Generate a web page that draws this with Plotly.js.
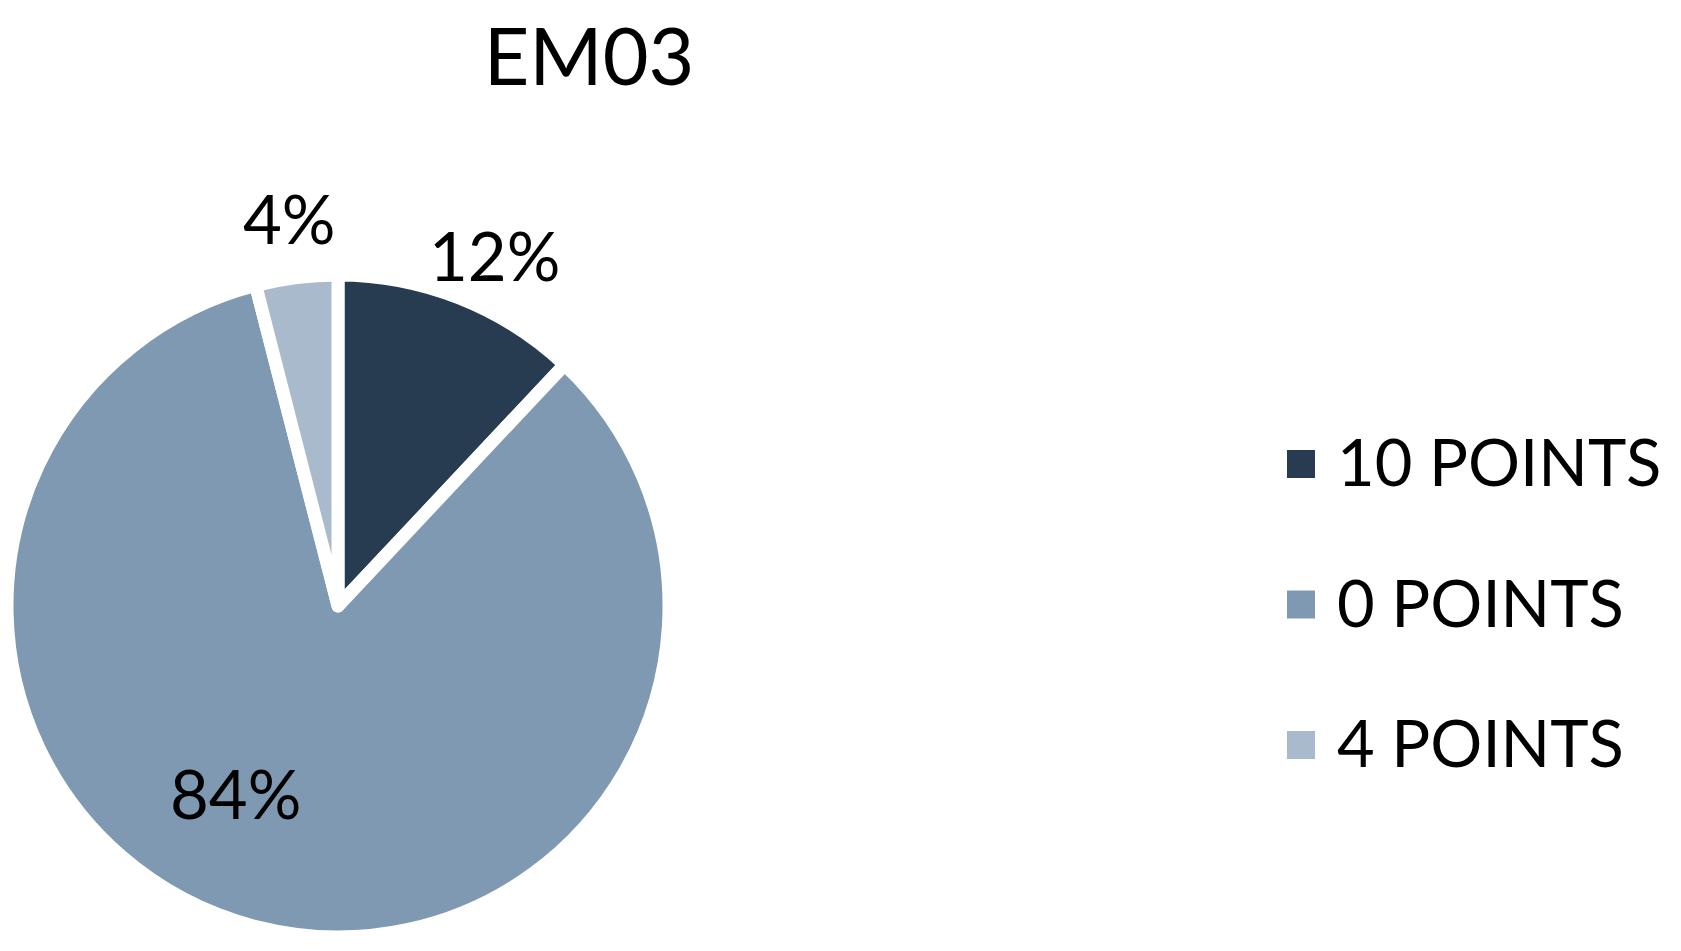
<!DOCTYPE html>
<html>
<head>
<meta charset="utf-8">
<script src="https://cdn.plot.ly/plotly-3.0.1.min.js"></script>
<style>
  html, body { margin: 0; padding: 0; background: #ffffff; }
  #chart { width: 1681px; height: 951px; }
</style>
</head>
<body>
<div id="chart"></div>
<script>
const chartTitle = 'EM03';
const categories = ['10 POINTS', '0 POINTS', '4 POINTS'];
const values = [12, 84, 4];
const colors = ['#283C51', '#7F99B2', '#A9BACC'];

const W = 1681, H = 951;
const FONT = 'Lato, "Open Sans", sans-serif';

// pie geometry (pixels)
const cx = 338, cy = 606, R = 331;

// label placement style: [angle shift in degrees from slice bisector, radius factor]
const labelPlacement = [[2.4, 1.16], [14.2, 0.645], [0, 1.18]];

const trace = {
  type: 'pie',
  labels: categories,
  values: values,
  sort: false,
  direction: 'clockwise',
  rotation: 0,
  marker: { colors: colors, line: { color: '#ffffff', width: 13 } },
  textinfo: 'none',
  showlegend: false,
  hoverinfo: 'none',
  domain: { x: [(cx - R) / W, (cx + R) / W], y: [1 - (cy + R) / H, 1 - (cy - R) / H] }
};

const shapes = [];
const annotations = [];

// percentage labels derived from the values
const total = values.reduce((a, b) => a + b, 0);
let cum = 0;
values.forEach((v, i) => {
  const mid = (cum + v / 2) / total * 360;
  cum += v;
  const ang = (mid + labelPlacement[i][0]) * Math.PI / 180;
  const r = R * labelPlacement[i][1];
  const px = cx + r * Math.sin(ang);
  const py = cy - r * Math.cos(ang);
  annotations.push({
    xref: 'paper', yref: 'paper',
    x: px / W, y: 1 - py / H,
    xanchor: 'center', yanchor: 'middle',
    text: Math.round(v / total * 100) + '%',
    showarrow: false,
    font: { family: FONT, size: 67, color: '#000000' }
  });
});

// custom legend built from the category arrays
const legX0 = 1287, legSize = 28, legTop = 450, legStep = 140.5, legTextX = 1335;
categories.forEach((c, i) => {
  const top = legTop + i * legStep;
  shapes.push({
    type: 'rect', xref: 'paper', yref: 'paper',
    x0: legX0 / W, x1: (legX0 + legSize) / W,
    y0: 1 - (top + legSize) / H, y1: 1 - top / H,
    fillcolor: colors[i], line: { width: 0 }
  });
  annotations.push({
    xref: 'paper', yref: 'paper',
    x: legTextX / W, y: 1 - (top + legSize / 2 - 3) / H,
    xanchor: 'left', yanchor: 'middle',
    text: c, showarrow: false,
    font: { family: FONT, size: 65, color: '#000000' }
  });
});

const layout = {
  width: W, height: H,
  margin: { l: 0, r: 0, t: 0, b: 0 },
  paper_bgcolor: '#ffffff',
  plot_bgcolor: '#ffffff',
  showlegend: false,
  title: {
    text: chartTitle,
    font: { family: FONT, size: 79, color: '#000000' },
    x: 589 / W, xanchor: 'center', xref: 'paper',
    y: 1 - 57 / H, yanchor: 'middle', yref: 'container'
  },
  shapes: shapes,
  annotations: annotations
};

Plotly.newPlot('chart', [trace], layout, { displayModeBar: false, staticPlot: true });
</script>
</body>
</html>
